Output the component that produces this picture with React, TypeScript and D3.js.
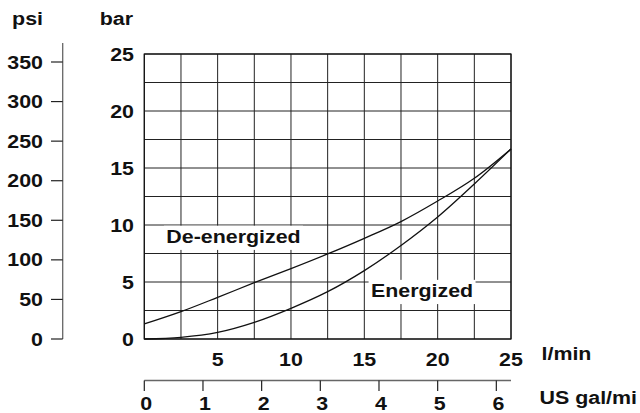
import React, { useLayoutEffect, useRef, useState } from "react";
import * as d3 from "d3";

// ---- data ----
const flowLmin = [0, 2.5, 5, 7.5, 10, 12.5, 15, 17.5, 20, 22.5, 25];
const deEnergizedBar = [1.32, 2.4, 3.65, 4.94, 6.17, 7.46, 8.83, 10.3, 12.1, 14.1, 16.67];
const energizedBar = [0, 0.15, 0.58, 1.46, 2.69, 4.15, 6.0, 8.2, 10.7, 13.6, 16.67];
const barTicks = [0, 5, 10, 15, 20, 25];
const psiTicks = [0, 50, 100, 150, 200, 250, 300, 350];
const lminTicks = [5, 10, 15, 20, 25];
const galTicks = [0, 1, 2, 3, 4, 5, 6];
const gridStep = 2.5;

const W = 640;
const H = 413;
const FONT = "'Liberation Sans', Arial, Helvetica, sans-serif";
const FS = 18.3;
const SX = 1.17;

const X0 = 144.3, X1 = 511, Y0 = 54, Y1 = 339;

const x = d3.scaleLinear().domain([0, 25]).range([X0, X1]);
const y = d3.scaleLinear().domain([0, 25]).range([Y1, Y0]);
const psi = d3.scaleLinear().domain([0, 350]).range([Y1, 62]);
const gal = d3.scaleLinear().domain([0, 6.25]).range([X0, X1]);

type Anchor = "start" | "middle" | "end";

function Label({ x: tx, y: ty, text, anchor = "start", box = false }: { x: number; y: number; text: string; anchor?: Anchor; box?: boolean }) {
  const ref = useRef<SVGTextElement>(null);
  const [bb, setBb] = useState<{ x: number; y: number; width: number; height: number } | null>(null);
  useLayoutEffect(() => {
    if (box && ref.current) {
      const b = ref.current.getBBox();
      setBb({ x: b.x, y: b.y, width: b.width, height: b.height });
    }
  }, [box, text]);
  return (
    <g transform={`translate(${tx},${ty}) scale(${SX},1)`}>
      {box && bb && (
        <rect x={bb.x - 2} y={bb.y - 1} width={bb.width + 4} height={bb.height + 4} fill="#fff" />
      )}
      <text
        ref={ref}
        textAnchor={anchor}
        fontFamily={FONT}
        fontWeight="bold"
        fontSize={FS}
        fill="#111"
      >
        {text}
      </text>
    </g>
  );
}

export default function App() {
  const gridX = d3.range(0, 25 + 0.001, gridStep);
  const gridY = d3.range(0, 25 + 0.001, gridStep);
  const line = d3
    .line<number>()
    .x((_, i) => x(flowLmin[i]))
    .y((d) => y(d))
    .curve(d3.curveCatmullRom.alpha(0.5));

  return (
    <svg
      width={W}
      height={H}
      viewBox={`0 0 ${W} ${H}`}
      style={{ position: "absolute", left: 0, top: 0, background: "#fff" }}
    >
      <rect x={0} y={0} width={W} height={H} fill="#fff" />

      {/* grid */}
      {gridX.map((v) => (
        <line key={"gx" + v} x1={x(v)} x2={x(v)} y1={Y0} y2={Y1} stroke="#222" strokeWidth={1} />
      ))}
      {gridY.map((v) => (
        <line key={"gy" + v} x1={X0} x2={X1} y1={y(v)} y2={y(v)} stroke="#222" strokeWidth={1} />
      ))}
      <rect x={X0} y={Y0} width={X1 - X0} height={Y1 - Y0} fill="none" stroke="#111" strokeWidth={1.2} />

      {/* curves */}
      <path d={line(deEnergizedBar) || ""} fill="none" stroke="#111" strokeWidth={1.3} />
      <path d={line(energizedBar) || ""} fill="none" stroke="#111" strokeWidth={1.3} />

      {/* curve labels */}
      <Label x={x(1.5)} y={y(8.4)} text="De-energized" box />
      <Label x={x(15.45)} y={y(3.65)} text="Energized" box />

      {/* bar axis labels */}
      {barTicks.map((v) => (
        <g key={"bt" + v} transform={`translate(0,6.5)`}>
          <Label x={134} y={y(v)} text={String(v)} anchor="end" />
        </g>
      ))}
      <Label x={133} y={24.5} text="bar" anchor="end" />

      {/* psi axis */}
      <line x1={62.7} x2={62.7} y1={43} y2={Y1} stroke="#666" strokeWidth={1.3} />
      {psiTicks.map((v) => (
        <g key={"pt" + v}>
          <line x1={51} x2={62.7} y1={psi(v)} y2={psi(v)} stroke="#222" strokeWidth={1.2} />
          <Label x={43} y={psi(v) + 6.5} text={String(v)} anchor="end" />
        </g>
      ))}
      <Label x={43} y={24.5} text="psi" anchor="end" />

      {/* l/min tick labels */}
      {lminTicks.map((v) => (
        <Label key={"lt" + v} x={x(v)} y={365.5} text={String(v)} anchor="middle" />
      ))}
      <Label x={541.5} y={360} text="l/min" />

      {/* US gal/min axis */}
      <line x1={X0} x2={X1} y1={380.5} y2={380.5} stroke="#666" strokeWidth={1.3} />
      {galTicks.map((v) => (
        <g key={"gt" + v}>
          <line x1={gal(v)} x2={gal(v)} y1={380.5} y2={391} stroke="#222" strokeWidth={1.2} />
          <Label x={gal(v) + 2} y={409.5} text={String(v)} anchor="middle" />
        </g>
      ))}
      <Label x={539.5} y={404} text="US gal/mi" />
    </svg>
  );
}
